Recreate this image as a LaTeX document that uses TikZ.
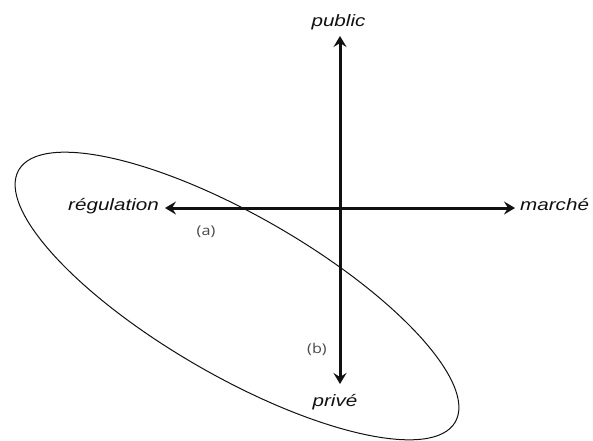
\documentclass[tikz,border=0pt]{standalone}
\usepackage{fontspec}
\usetikzlibrary{arrows.meta}
\newfontfamily\labfont[FakeStretch=1.25]{Liberation Sans}
\newfontfamily\tagfont[FakeStretch=1.2]{Open Sans}
\definecolor{ink}{HTML}{111111}
\definecolor{taggray}{HTML}{4A4A4A}
\tikzset{
  axisline/.style={line width=3pt, draw=ink, {Stealth[length=11pt,width=13pt,inset=4pt]}-{Stealth[length=11pt,width=13pt,inset=4pt]}},
  lab/.style={inner sep=0pt, font=\labfont\itshape\fontsize{16.5}{18}\selectfont, text=ink},
  tag/.style={inner sep=0pt, font=\tagfont\fontsize{13.5}{15}\selectfont, text=taggray},
  blob/.style={line width=1pt, draw=ink}
}
\begin{document}
\begin{tikzpicture}[x=1pt,y=-1pt]
\useasboundingbox (0,0) rectangle (593,440);
\fill[white] (0,0) rectangle (593,440);
% ellipse
\coordinate (ec) at (237,296);
\draw[blob, rotate around={-30:(ec)}] (ec) ellipse [x radius=252pt, y radius=80pt];
% axes end points
\coordinate (top) at (340,36);
\coordinate (bot) at (340,384);
\coordinate (lft) at (165,208);
\coordinate (rgt) at (515,208);
\draw[axisline] (bot) -- (top);
\draw[axisline] (lft) -- (rgt);
% labels
\node[lab, anchor=base] (public) at (338.5,26) {public};
\node[lab, anchor=base east] (regulation) at (159,210) {régulation};
\node[lab, anchor=base west] (marche) at (520,210) {marché};
\node[lab, anchor=base] (prive) at (335,406) {privé};
\node[tag] (a) at (206,232) {(a)};
\node[tag] (b) at (317,349) {(b)};
\end{tikzpicture}
\end{document}
